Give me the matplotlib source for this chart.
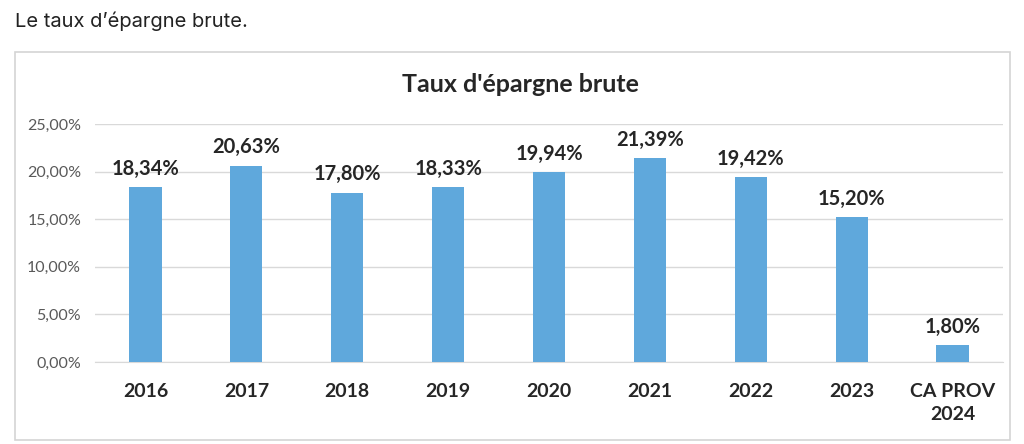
#!/usr/bin/env python3
"""Taux d'épargne brute bar chart."""

import matplotlib
matplotlib.use("Agg")
import matplotlib.pyplot as plt
from matplotlib.patches import Rectangle

categories = ["2016", "2017", "2018", "2019", "2020", "2021", "2022", "2023", "CA PROV\n2024"]
values = [18.34, 20.63, 17.80, 18.33, 19.94, 21.39, 19.42, 15.20, 1.80]
yticks = [0, 5, 10, 15, 20, 25]


def fr_pct(v: float) -> str:
    return f"{v:.2f}%".replace(".", ",")


def main() -> None:
    plt.rcParams["font.family"] = ["Lato", "DejaVu Sans"]
    fig = plt.figure(figsize=(10.24, 4.44), dpi=100)

    # caption above the chart box
    fig.text(15 / 1024, 1 - 21 / 444, "Le taux d\u2019épargne brute.", fontsize=14.5,
             color="#222222", va="center", ha="left", family=["Inter", "DejaVu Sans"])

    # chart frame
    fig.patches.append(Rectangle((15 / 1024, 4 / 444), 995 / 1024, 388 / 444,
                                 transform=fig.transFigure, fill=False,
                                 edgecolor="#d4d4d4", linewidth=1.2))

    ax = fig.add_axes([95 / 1024, 1 - 362 / 444, 908 / 1024, 238 / 444])
    x = range(len(categories))
    bars = ax.bar(x, values, width=0.32, color="#5FA8DC", zorder=3)
    for b, v in zip(bars, values):
        ax.annotate(fr_pct(v), (b.get_x() + b.get_width() / 2, v),
                    xytext=(0, 6), textcoords="offset points", ha="center", va="bottom",
                    fontsize=14.5, fontweight="bold", color="#262626")

    ax.set_xlim(-0.5, len(categories) - 0.5)
    ax.set_ylim(0, 25)
    ax.set_yticks(yticks)
    ax.set_yticklabels([fr_pct(t) for t in yticks], fontsize=11.5, color="#595959")
    ax.set_xticks(list(x))
    ax.set_xticklabels(categories, fontsize=14, fontweight="bold", color="#262626",
                       linespacing=1.45)
    ax.tick_params(axis="both", length=0)
    ax.tick_params(axis="x", pad=15)
    ax.tick_params(axis="y", pad=10)
    ax.grid(axis="y", color="#d9d9d9", linewidth=1, zorder=0)
    for side in ["top", "right", "left"]:
        ax.spines[side].set_visible(False)
    ax.spines["bottom"].set_color("#d9d9d9")

    fig.text(520 / 1024, 1 - 85 / 444, "Taux d'épargne brute", fontsize=18,
             fontweight="bold", color="#262626", ha="center", va="center")

    fig.savefig("out.png", dpi=100)


if __name__ == "__main__":
    main()
